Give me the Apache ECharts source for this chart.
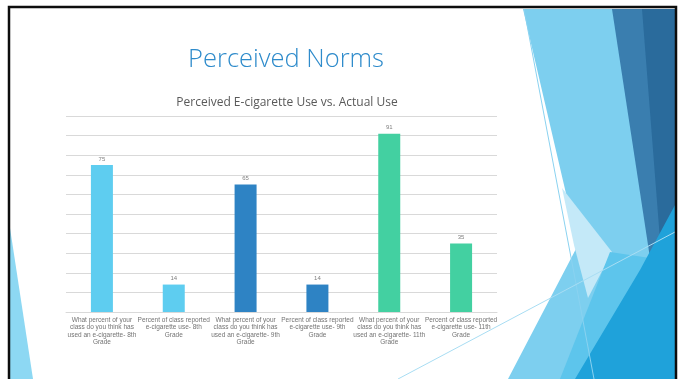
<!DOCTYPE html>
<html>
<head>
<meta charset="utf-8">
<script src="https://cdn.jsdelivr.net/npm/echarts@6/dist/echarts.min.js"></script>
<style>
  html, body { margin: 0; padding: 0; background: #ffffff; }
  #chart { width: 686px; height: 379px; }
</style>
</head>
<body>
<div id="chart"></div>
<script>
// Survey questions / reported rates, one bar per category
const categories = [
  'What percent of your\nclass do you think has\nused an e-cigarette- 8th\nGrade',
  'Percent of class reported\ne-cigarette use- 8th\nGrade',
  'What percent of your\nclass do you think has\nused an e-cigarette- 9th\nGrade',
  'Percent of class reported\ne-cigarette use- 9th\nGrade',
  'What percent of your\nclass do you think has\nused an e-cigarette- 11th\nGrade',
  'Percent of class reported\ne-cigarette use- 11th\nGrade'
];
const values = [75, 14, 65, 14, 91, 35];
const barColors = ['#5ECDF0', '#5ECDF0', '#2E83C4', '#2E83C4', '#43D0A1', '#43D0A1'];

const chart = echarts.init(document.getElementById('chart'));

// Slide frame and faceted background shapes
const deco = [
  // left sliver
  { type: 'polygon', shape: { points: [[10, 228], [10, 379], [33, 379]] }, style: { fill: '#8DD8F3' }, z: -10 },
  // light blue facet
  { type: 'polygon', shape: { points: [[523, 9], [613, 9], [655, 255], [622, 298], [563, 379], [508, 379], [578, 245]] }, style: { fill: '#7DCFEF' }, z: -10 },
  // pale wedge
  { type: 'polygon', shape: { points: [[562, 188], [612, 252], [588, 298], [574, 245]] }, style: { fill: '#C4E9F8' }, z: -9 },
  // mid light-blue lower facet
  { type: 'polygon', shape: { points: [[610, 252], [650, 258], [622, 379], [560, 379]] }, style: { fill: '#5DC5EC' }, z: -9 },
  // dark blue band
  { type: 'polygon', shape: { points: [[612, 9], [675, 9], [675, 215], [650, 258]] }, style: { fill: '#3A7EAF' }, z: -8 },
  { type: 'polygon', shape: { points: [[642, 9], [675, 9], [675, 215], [660, 240]] }, style: { fill: '#2A6B9C' }, z: -8 },
  // bright blue bottom facet
  { type: 'polygon', shape: { points: [[675, 205], [675, 379], [575, 379], [640, 270]] }, style: { fill: '#1FA2DA' }, z: -7 },
  // thin lines
  { type: 'line', shape: { x1: 524, y1: 9, x2: 594, y2: 379 }, style: { stroke: '#8AD2F0', lineWidth: 1 }, z: -6 },
  { type: 'line', shape: { x1: 398, y1: 379, x2: 675, y2: 232 }, style: { stroke: '#A8DDF3', lineWidth: 1 }, z: -6 },
  // frame
  { type: 'polyline', shape: { points: [[9, 379], [9, 7], [676, 7], [676, 379]] }, style: { stroke: '#0d0d0d', lineWidth: 2.5, fill: null }, z: 10 }
];

chart.setOption({
  backgroundColor: '#ffffff',
  animation: false,
  title: [
    {
      text: 'Perceived Norms',
      left: 281, top: 42, textAlign: 'center',
      textStyle: { fontFamily: 'Open Sans', fontWeight: 300, fontSize: 25.5, color: '#2E8BCB' }
    },
    {
      text: 'Perceived E-cigarette Use vs. Actual Use',
      left: 282, top: 92, textAlign: 'center',
      textStyle: { fontFamily: 'Open Sans', fontWeight: 'normal', fontSize: 12, color: '#595959' }
    }
  ],
  graphic: deco,
  grid: { left: 66, right: 189, top: 116, bottom: 67, containLabel: false },
  xAxis: {
    type: 'category',
    data: categories,
    axisLine: { lineStyle: { color: '#d9d9d9', width: 1 } },
    axisTick: { show: false },
    axisLabel: {
      interval: 0, margin: 4, color: '#737373',
      fontFamily: 'Liberation Sans', fontSize: 6.5, lineHeight: 7.6
    }
  },
  yAxis: {
    type: 'value', min: 0, max: 100, interval: 10,
    axisLabel: { show: false },
    axisLine: { show: false },
    axisTick: { show: false },
    splitLine: { lineStyle: { color: '#d9d9d9', width: 1 } }
  },
  series: [{
    type: 'bar',
    barWidth: 22,
    data: values.map((v, i) => ({ value: v, itemStyle: { color: barColors[i] } })),
    label: {
      show: true, position: 'top', distance: 3,
      color: '#7f7f7f', fontFamily: 'Liberation Sans', fontSize: 6
    }
  }]
});
</script>
</body>
</html>
